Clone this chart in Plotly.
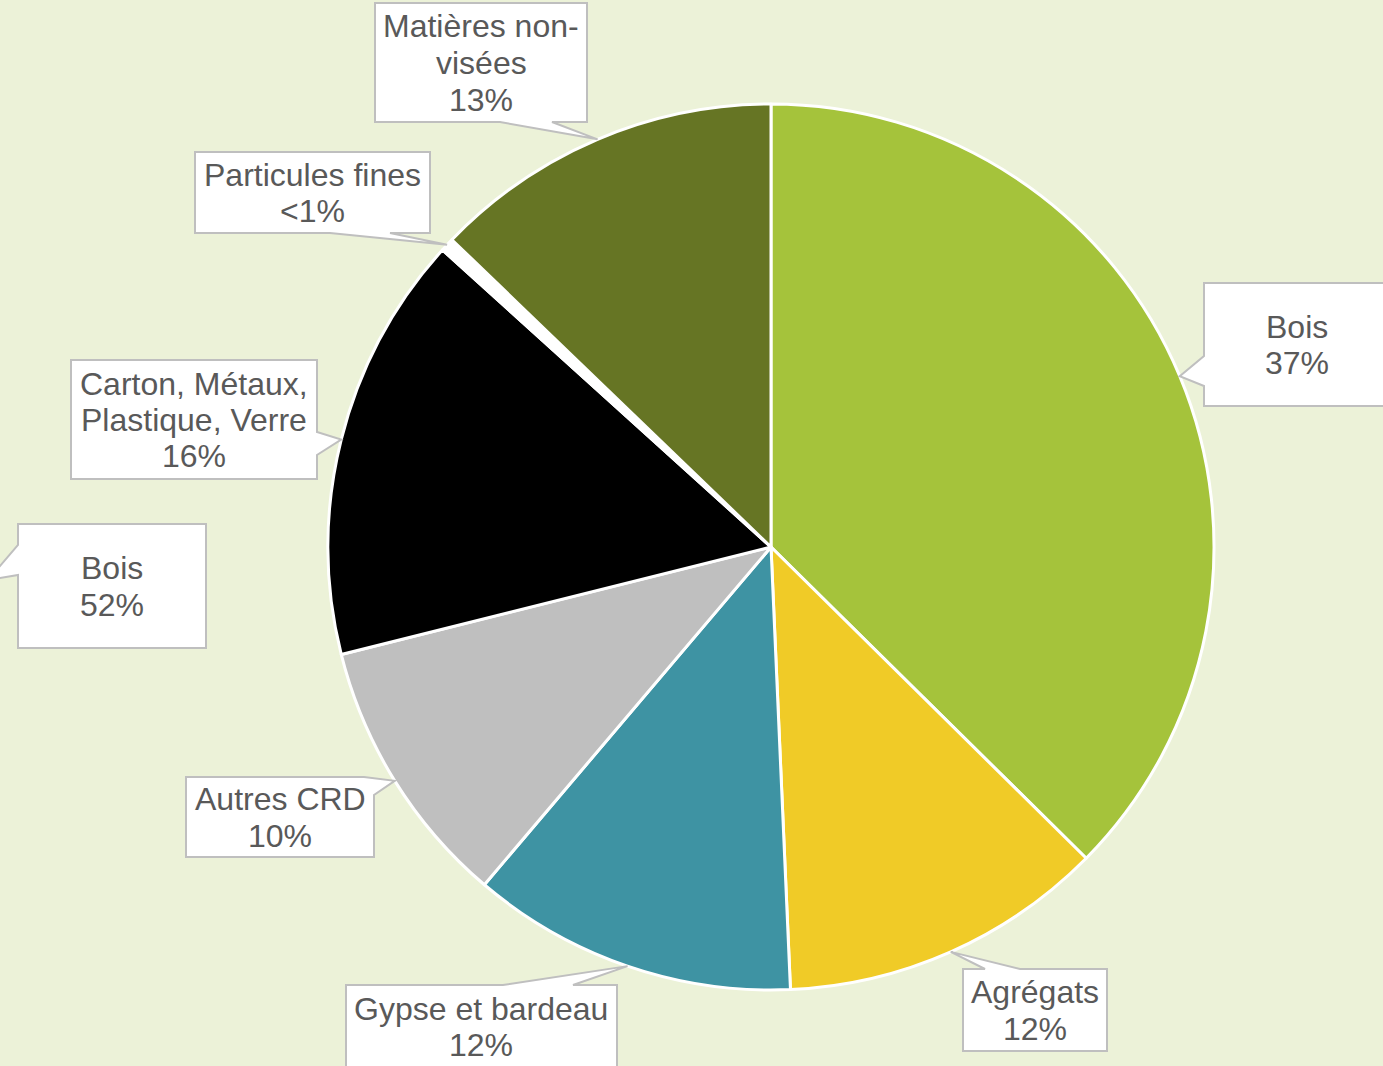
import math
import plotly.graph_objects as go

# ---- data ----
categories = ["Bois", "Agrégats", "Gypse et bardeau", "Autres CRD",
              "Carton, Métaux, Plastique, Verre", "Particules fines", "Matières non-visées"]
values = [37.4, 11.9, 11.9, 9.9, 15.6, 0.5, 12.8]
pct_labels = ["37%", "12%", "12%", "10%", "16%", "<1%", "13%"]
label_lines = [["Bois"], ["Agrégats"], ["Gypse et bardeau"], ["Autres CRD"],
               ["Carton, Métaux,", "Plastique, Verre"], ["Particules fines"],
               ["Matières non-", "visées"]]
colors = ["#A5C33B", "#F0CB27", "#3E93A3", "#BFBFBF", "#000000", "#FFFFFF", "#667524"]

# stray label from a neighbouring chart
extra_label = ["Bois", "52%"]

# ---- layout constants (pixels) ----
W, H = 1383, 1066
CX, CY, R = 771, 547, 443
BG = "#ECF2D8"
TXT = "#595959"
BORDER = "#BFBFBF"
FONT = "Arial, Liberation Sans, sans-serif"
FS = 32
LS = 36.5

# callout boxes: rect (x0,y0,x1,y1), tail edge, base positions
boxes = [
    ((1204, 283, 1390, 406), "left", (356, 386)),
    ((963, 969, 1107, 1051), "top", (985, 1020)),
    ((346, 985, 617, 1068), "top", (503, 573)),
    ((186, 777, 374, 857), "corner", (364, 795)),
    ((71, 360, 317, 479), "right", (432, 455)),
    ((195, 152, 430, 233), "bottom", (330, 390)),
    ((375, 3, 587, 122), "bottom", (500, 552)),
]
extra_box = ((18, 524, 206, 648), "left", (545, 575))
extra_tip = (-12, 580)


def px(x):
    return x / W


def py(y):
    return 1 - y / H


def callout_path(rect, side, base, tip):
    x0, y0, x1, y1 = rect
    a, b = base
    TL, TR, BR, BL = (x0, y0), (x1, y0), (x1, y1), (x0, y1)
    if side == "top":
        pts = [TL, (a, y0), tip, (b, y0), TR, BR, BL]
    elif side == "right":
        pts = [TL, TR, (x1, a), tip, (x1, b), BR, BL]
    elif side == "bottom":
        pts = [TL, TR, BR, (b, y1), tip, (a, y1), BL]
    elif side == "left":
        pts = [TL, TR, BR, BL, (x0, b), tip, (x0, a)]
    else:  # corner top-right
        pts = [TL, (a, y0), tip, (x1, b), BR, BL]
    return "M " + " L ".join(f"{px(x):.5f},{py(y):.5f}" for x, y in pts) + " Z"


fig = go.Figure(go.Pie(
    labels=categories, values=values, sort=False, direction="clockwise",
    rotation=0, textinfo="none", hoverinfo="label+percent",
    marker=dict(colors=colors, line=dict(color="white", width=3)),
    domain=dict(x=[px(CX - R), px(CX + R)], y=[py(CY + R), py(CY - R)]),
    showlegend=False,
))

shapes, annotations = [], []
total = sum(values)


def add_label(rect, side, base, tip, lines):
    shapes.append(dict(type="path", path=callout_path(rect, side, base, tip),
                       xref="paper", yref="paper", fillcolor="white",
                       line=dict(color=BORDER, width=2), layer="above"))
    x0, y0, x1, y1 = rect
    cx, cy = (x0 + x1) / 2, (y0 + y1) / 2 + 0.5
    n = len(lines)
    for i, t in enumerate(lines):
        yy = cy + (i - (n - 1) / 2) * LS
        annotations.append(dict(text=t, x=px(cx), y=py(yy), xref="paper", yref="paper",
                                xanchor="center", yanchor="middle", showarrow=False,
                                font=dict(family=FONT, size=FS, color=TXT)))


cum = 0.0
for i, v in enumerate(values):
    mid = (cum + v / 2) / total * 2 * math.pi
    cum += v
    tip = (CX + R * math.sin(mid), CY - R * math.cos(mid))
    rect, side, base = boxes[i]
    add_label(rect, side, base, tip, label_lines[i] + [pct_labels[i]])

add_label(extra_box[0], extra_box[1], extra_box[2], extra_tip, extra_label)

fig.update_layout(
    width=W, height=H, autosize=False,
    margin=dict(l=0, r=0, t=0, b=0),
    paper_bgcolor=BG, plot_bgcolor=BG,
    shapes=shapes, annotations=annotations,
)

fig.write_html("out.html", config={"displayModeBar": False},
               post_script="document.body.style.margin='0';document.body.style.overflow='hidden';")
